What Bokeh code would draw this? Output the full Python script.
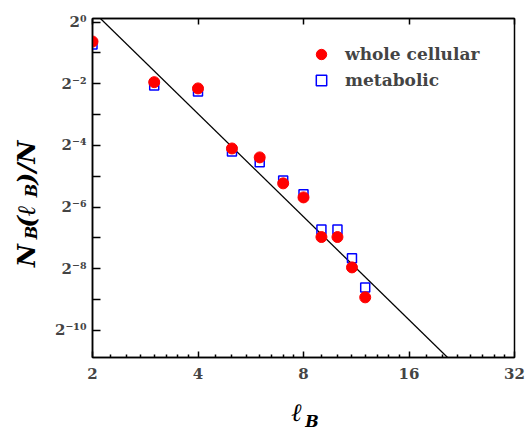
import math
from bokeh.plotting import figure
from bokeh.layouts import row, column
from bokeh.models import FixedTicker, LogAxis, Label, Legend, LegendItem, Range1d
from bokeh.embed import file_html
from bokeh.resources import INLINE

# ---- data ----
lengths = [2, 3, 4, 5, 6, 7, 8, 9, 10, 11, 12]
whole_cellular = [0.646, 0.259, 0.225, 0.0583, 0.0477, 0.0266, 0.0194, 0.00796, 0.00796, 0.00402, 0.00205]
metabolic = [0.603, 0.240, 0.210, 0.0544, 0.0427, 0.0284, 0.0208, 0.00942, 0.00942, 0.00494, 0.00256]
fit_x = [2.0, 32.0]
fit_y = [1.29, 0.000122]

x_ticks = [2, 4, 8, 16, 32]
x_tick_labels = ["2", "4", "8", "16", "32"]
y_ticks = [1.0, 0.25, 0.0625, 0.015625, 0.00390625, 0.0009765625]
y_tick_labels = ["2\u2070", "2\u207b\u00b2", "2\u207b\u2074", "2\u207b\u2076", "2\u207b\u2078", "2\u207b\u00b9\u2070"]
y_minor = [0.5, 0.125, 0.03125, 0.0078125, 0.001953125]
x_minor = [2 ** k * (1 + j / 8) for k in range(1, 5) for j in range(1, 8)]

FONT = "DejaVu Serif"
LEFT_W = 50
BOTTOM_H = 40
W, H = 525, 430

p = figure(width=W - LEFT_W, height=H - BOTTOM_H, x_axis_type="log", y_axis_type="log",
           x_range=Range1d(2, 32), y_range=Range1d(0.000530, 1.084),
           output_backend="svg", toolbar_location=None,
           min_border_left=42, min_border_right=11, min_border_top=18, min_border_bottom=33)
p.title.visible = False
p.grid.visible = False
p.outline_line_color = "black"
p.outline_line_width = 1.5
p.background_fill_color = "white"
p.border_fill_color = "white"

xa = p.xaxis[0]
xa.ticker = FixedTicker(ticks=x_ticks, minor_ticks=x_minor)
xa.major_label_overrides = {t: s for t, s in zip(x_ticks, x_tick_labels)}
xa.major_tick_in = 6
xa.major_tick_out = 0
xa.minor_tick_in = 3
xa.minor_tick_out = 0
xa.axis_line_width = 1.5
xa.major_tick_line_width = 1.5
xa.minor_tick_line_width = 1.5
xa.major_label_text_font = FONT
xa.major_label_text_font_style = "bold"
xa.major_label_text_font_size = "15px"
xa.major_label_standoff = 10

ya = p.yaxis[0]
ya.ticker = FixedTicker(ticks=y_ticks, minor_ticks=y_minor)
ya.major_label_overrides = {t: s for t, s in zip(y_ticks, y_tick_labels)}
ya.major_tick_in = 8
ya.major_tick_out = 0
ya.minor_tick_in = 8
ya.minor_tick_out = 0
ya.axis_line_width = 1.5
ya.major_tick_line_width = 1.5
ya.minor_tick_line_width = 1.5
ya.major_label_text_font = FONT
ya.major_label_text_font_style = "bold"
ya.major_label_text_font_size = "15px"
ya.major_label_standoff = 6

top = LogAxis(ticker=FixedTicker(ticks=x_ticks, minor_ticks=[]),
              major_label_overrides={t: "" for t in x_ticks},
              major_label_standoff=0,
              major_tick_in=6, major_tick_out=0, minor_tick_in=0, minor_tick_out=0,
              major_tick_line_width=1.5, axis_line_width=1.5)
p.add_layout(top, "above")

p.line(fit_x, fit_y, line_color="black", line_width=1.3)
blue = p.scatter(lengths, metabolic, marker="square", size=9, line_color="blue",
                 fill_color=None, line_width=1.5)
red = p.scatter(lengths, whole_cellular, marker="circle", size=11,
                fill_color="red", line_color="red")

legend = Legend(items=[LegendItem(label="whole cellular", renderers=[red]),
                       LegendItem(label="metabolic", renderers=[blue])],
                location=(216, 264), padding=0, margin=0, spacing=0,
                glyph_width=26, glyph_height=26, label_height=26, label_standoff=11,
                border_line_color=None, background_fill_alpha=0,
                label_text_font=FONT, label_text_font_style="bold",
                label_text_font_size="17px")
p.add_layout(legend)


def aux_fig(w, h):
    f = figure(width=w, height=h, x_range=Range1d(0, w), y_range=Range1d(0, h),
               output_backend="svg", toolbar_location=None,
               x_axis_location=None, y_axis_location=None, min_border=0)
    f.title.visible = False
    f.grid.visible = False
    f.outline_line_color = None
    f.background_fill_color = "white"
    f.border_fill_color = "white"
    return f


def piece(f, text, x, y, size, angle=0.0):
    f.add_layout(Label(x=x, y=y, text=text, angle=angle,
                       text_align="center", text_baseline="alphabetic",
                       text_font=FONT, text_font_style="bold italic",
                       text_font_size=size, text_color="black"))


# y-axis title  N_B(l_B)/N, rotated; positions in pixels of its own small panel
fy = aux_fig(LEFT_W, H)
R = math.pi / 2
piece(fy, "N", 26, 175, "25px", R)
piece(fy, "B", 31, 198, "16px", R)
piece(fy, "(\u2113", 26, 214, "25px", R)
piece(fy, "B", 31, 240, "16px", R)
piece(fy, ")/N", 26, 268, "25px", R)

# x-axis title  l_B
fx = aux_fig(W - LEFT_W, BOTTOM_H)
piece(fx, "\u2113", 230, 18, "25px")
piece(fx, "B", 247, 9, "16px")

layout = row(fy, column(p, fx))
open("out.html", "w").write(file_html(layout, INLINE))
